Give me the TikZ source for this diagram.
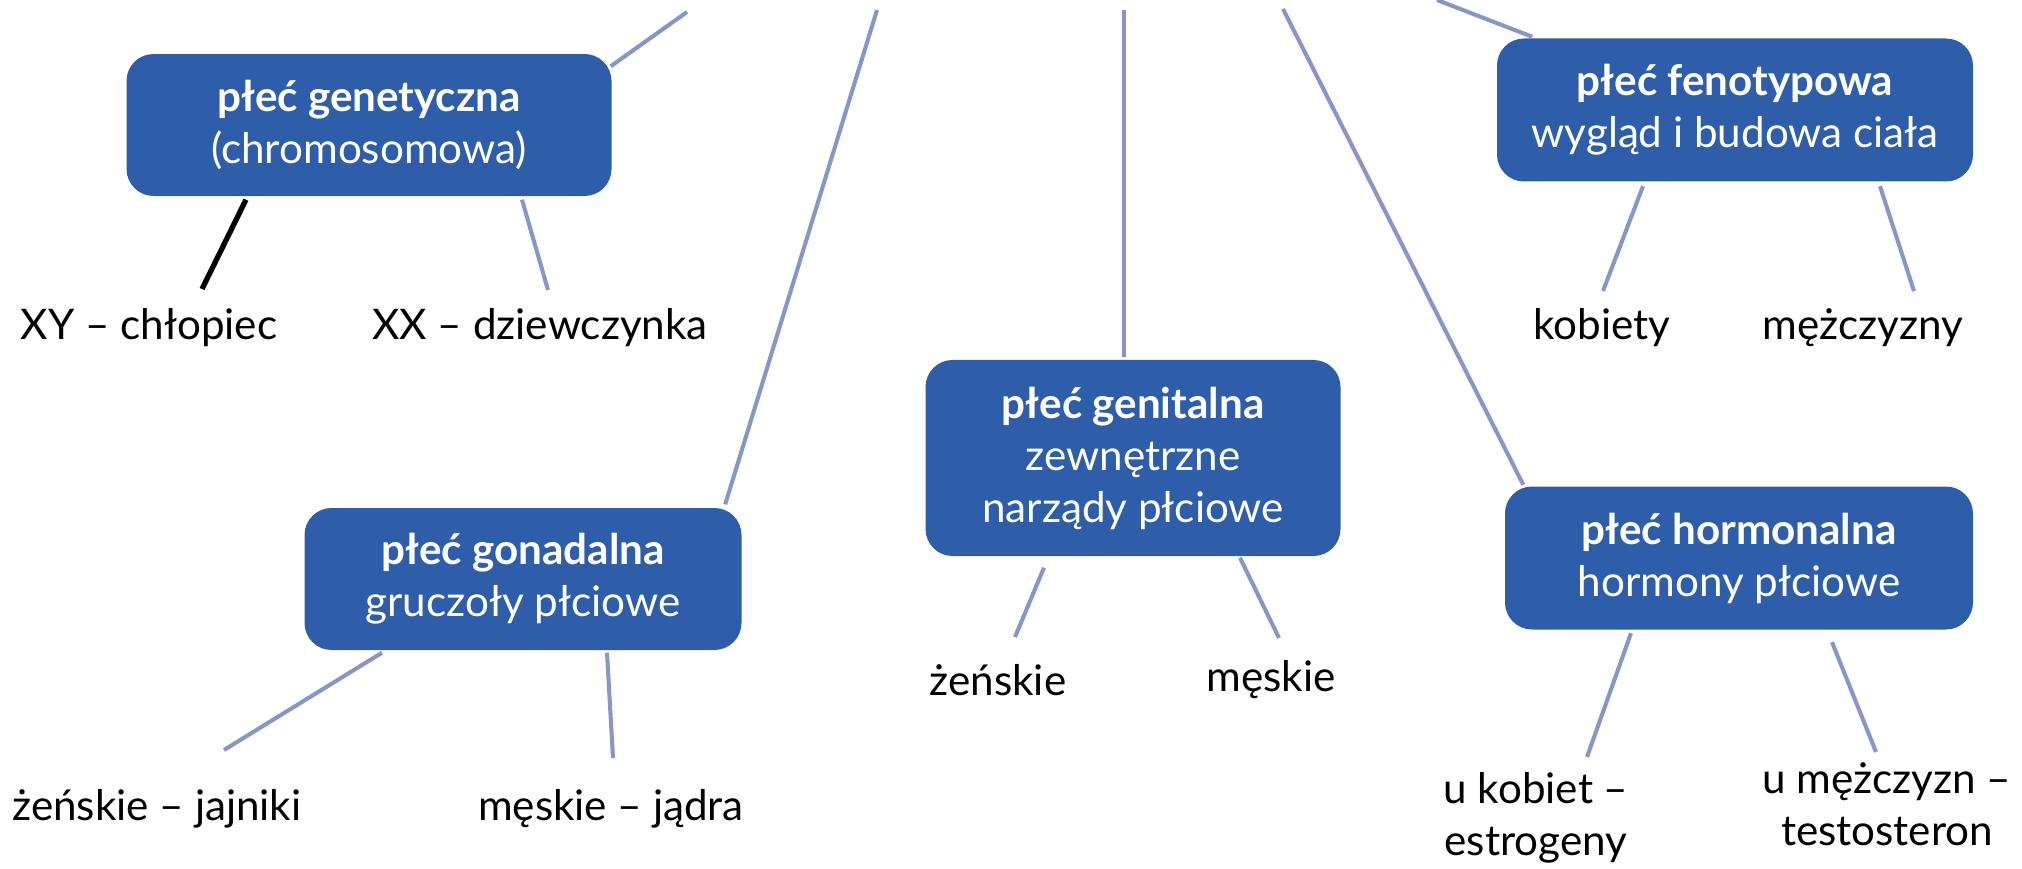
\documentclass[tikz,border=0pt]{standalone}
\usepackage{fontspec}
\setmainfont{Lato}
\definecolor{boxblue}{RGB}{46,94,170}
\definecolor{linkblue}{RGB}{136,149,199}

\begin{document}
\begin{tikzpicture}[box/.style={rounded corners=0.27cm,fill=boxblue,text=white,align=center,inner sep=0pt,font=\fontsize{12}{14.8}\selectfont,execute at begin node={\rule{0pt}{12pt}}},
leaf/.style={align=center,inner sep=0pt,font=\fontsize{12}{14.8}\selectfont},
link/.style={draw=linkblue,line width=1.15pt}]
\useasboundingbox (0,0) rectangle (20.22,8.68);
% boxes
\node[box,minimum width=4.85cm,minimum height=1.42cm] (gen) at (3.69,7.43) {\textbf{płeć genetyczna}\\(chromosomowa)};
\node[box,minimum width=4.76cm,minimum height=1.43cm] (fen) at (17.35,7.58) {\textbf{płeć fenotypowa}\\wygląd i budowa ciała};
\node[box,minimum width=4.37cm,minimum height=1.42cm] (gon) at (5.23,2.89) {\textbf{płeć gonadalna}\\gruczoły płciowe};
\node[box,minimum width=4.15cm,minimum height=1.96cm] (gnt) at (11.33,4.10) {\textbf{płeć genitalna}\\zewnętrzne\\narządy płciowe};
\node[box,minimum width=4.68cm,minimum height=1.43cm] (hor) at (17.39,3.10) {\textbf{płeć hormonalna}\\hormony płciowe};
% leaves
\node[leaf] (xy) at (1.49,5.40) {XY – chłopiec};
\node[leaf] (xx) at (5.40,5.40) {XX – dziewczynka};
\node[leaf] (kob) at (16.02,5.40) {kobiety};
\node[leaf] (mez) at (18.63,5.40) {mężczyzny};
\node[leaf] (jaj) at (1.57,0.59) {żeńskie – jajniki};
\node[leaf] (jad) at (6.11,0.59) {męskie – jądra};
\node[leaf] (zen) at (9.98,1.88) {żeńskie};
\node[leaf] (mes) at (12.71,1.88) {męskie};
\node[leaf] (est) at (15.36,0.50) {u kobiet –\\estrogeny};
\node[leaf] (tes) at (18.87,0.64) {u mężczyzn –\\testosteron};
% free ends at the top
\coordinate (t1) at (6.87,8.56);
\coordinate (t2) at (8.77,8.58);
\coordinate (t3) at (11.24,8.58);
\coordinate (t4) at (12.83,8.59);
\coordinate (t5) at (14.37,8.68);
\draw[link] ([shift={(-0.015,-0.13)}]gen.north east)--(t1);
\draw[link] ([shift={(-0.17,0.03)}]gon.north east)--(t2);
\draw[link] ([shift={(-0.09,0.02)}]gnt.north)--(t3);
\draw[link] ([shift={(0.19,0.01)}]hor.north west)--(t4);
\draw[link] ([shift={(0.36,0.01)}]fen.north west)--(t5);
% connectors to the leaves
\draw[line width=1.5pt] ([shift={(-1.23,-0.03)}]gen.south)--([shift={(0.53,0.39)}]xy.center);
\foreach \a/\dx/\dy/\b/\ex/\ey in {gen/1.53/-0.03/xx/0.08/0.38, fen/-0.92/-0.04/kob/0.01/0.37,
  fen/1.45/-0.04/mez/0.51/0.37, gon/-1.41/-0.02/jaj/0.67/0.59, gon/0.84/-0.02/jad/0.02/0.51,
  gnt/-0.89/-0.11/zen/0.17/0.43, gnt/1.07/-0.01/mes/0.08/0.42, hor/-1.08/-0.03/est/0.51/0.61,
  hor/0.93/-0.12/tes/-0.11/0.52}
  {\draw[link] ([shift={(\dx,\dy)}]\a.south)--([shift={(\ex,\ey)}]\b.center);}
\end{tikzpicture}
\end{document}
